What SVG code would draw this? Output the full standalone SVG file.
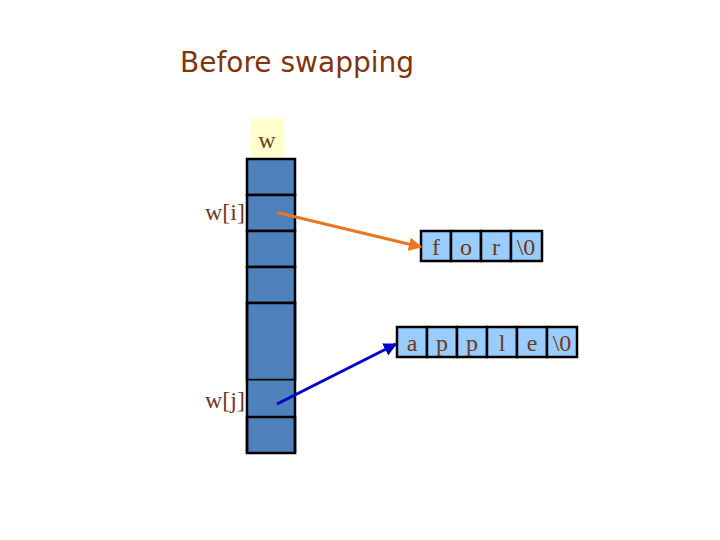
<svg xmlns="http://www.w3.org/2000/svg" width="720" height="540" viewBox="0 0 720 540">
<style>
.col{fill:#4F81BD;stroke:#000;stroke-width:2.5}
.ch{fill:#99CCFF;stroke:#000;stroke-width:2.5}
.t{font-family:"Liberation Serif",serif;font-size:24px;fill:#6E3A1C;text-anchor:middle}
.lbl{font-family:"Liberation Serif",serif;font-size:24px;fill:#6E3A1C;text-anchor:end}
</style>
<defs>
<marker id="ao" viewBox="0 0 10 10" refX="9" refY="5" markerWidth="4.5" markerHeight="4.5" orient="auto" markerUnits="strokeWidth"><path d="M0,0 L10,5 L0,10 z" fill="#E87722"/></marker>
<marker id="ab" viewBox="0 0 10 10" refX="9" refY="5" markerWidth="4.5" markerHeight="4.5" orient="auto" markerUnits="strokeWidth"><path d="M0,0 L10,5 L0,10 z" fill="#0000CC"/></marker>
</defs>
<rect width="720" height="540" fill="#fff"/>
<text x="180" y="72" font-family="'DejaVu Sans',sans-serif" font-size="29" fill="#80340C" textLength="234" lengthAdjust="spacingAndGlyphs">Before swapping</text>
<g id="w-label">
<rect x="251" y="119" width="33" height="40" fill="#FFFFCC"/>
<text class="t" x="267" y="148">w</text>
</g>
<g id="array-w">
<rect class="col" x="247" y="159" width="48" height="36"/>
<rect class="col" x="247" y="195" width="48" height="36"/>
<rect class="col" x="247" y="231" width="48" height="36"/>
<rect class="col" x="247" y="267" width="48" height="36"/>
<rect class="col" x="247" y="303" width="48" height="77"/>
<rect class="col" x="247" y="380" width="48" height="37" style="stroke-width:1"/>
<rect class="col" x="247" y="417" width="48" height="36"/>
<line x1="247" y1="303" x2="247" y2="453" stroke="#000" stroke-width="2.5"/>
<line x1="295" y1="303" x2="295" y2="453" stroke="#000" stroke-width="2.5"/>
</g>
<g id="label-wi"><text class="lbl" x="245" y="220">w[i]</text></g>
<g id="label-wj"><text class="lbl" x="245" y="408">w[j]</text></g>
<g id="str-for">
<rect class="ch" x="421" y="231" width="30" height="30"/>
<rect class="ch" x="451" y="231" width="30" height="30"/>
<rect class="ch" x="481" y="231" width="30" height="30"/>
<rect class="ch" x="511" y="231" width="31" height="30"/>
<text class="t" x="436" y="255">f</text>
<text class="t" x="466" y="255">o</text>
<text class="t" x="496" y="255">r</text>
<text class="t" x="526" y="255">\0</text>
</g>
<g id="str-apple">
<rect class="ch" x="397" y="327" width="30" height="30"/>
<rect class="ch" x="427" y="327" width="30" height="30"/>
<rect class="ch" x="457" y="327" width="30" height="30"/>
<rect class="ch" x="487" y="327" width="30" height="30"/>
<rect class="ch" x="517" y="327" width="30" height="30"/>
<rect class="ch" x="547" y="327" width="30" height="30"/>
<text class="t" x="412" y="351">a</text>
<text class="t" x="442" y="351">p</text>
<text class="t" x="472" y="351">p</text>
<text class="t" x="502" y="351">l</text>
<text class="t" x="532" y="351">e</text>
<text class="t" x="562" y="351">\0</text>
</g>
<g id="connectors">
<line x1="277" y1="212.5" x2="421" y2="247" stroke="#E87722" stroke-width="3" marker-end="url(#ao)"/>
<line x1="277" y1="404" x2="396" y2="344" stroke="#0000CC" stroke-width="3" marker-end="url(#ab)"/>
</g>
</svg>
